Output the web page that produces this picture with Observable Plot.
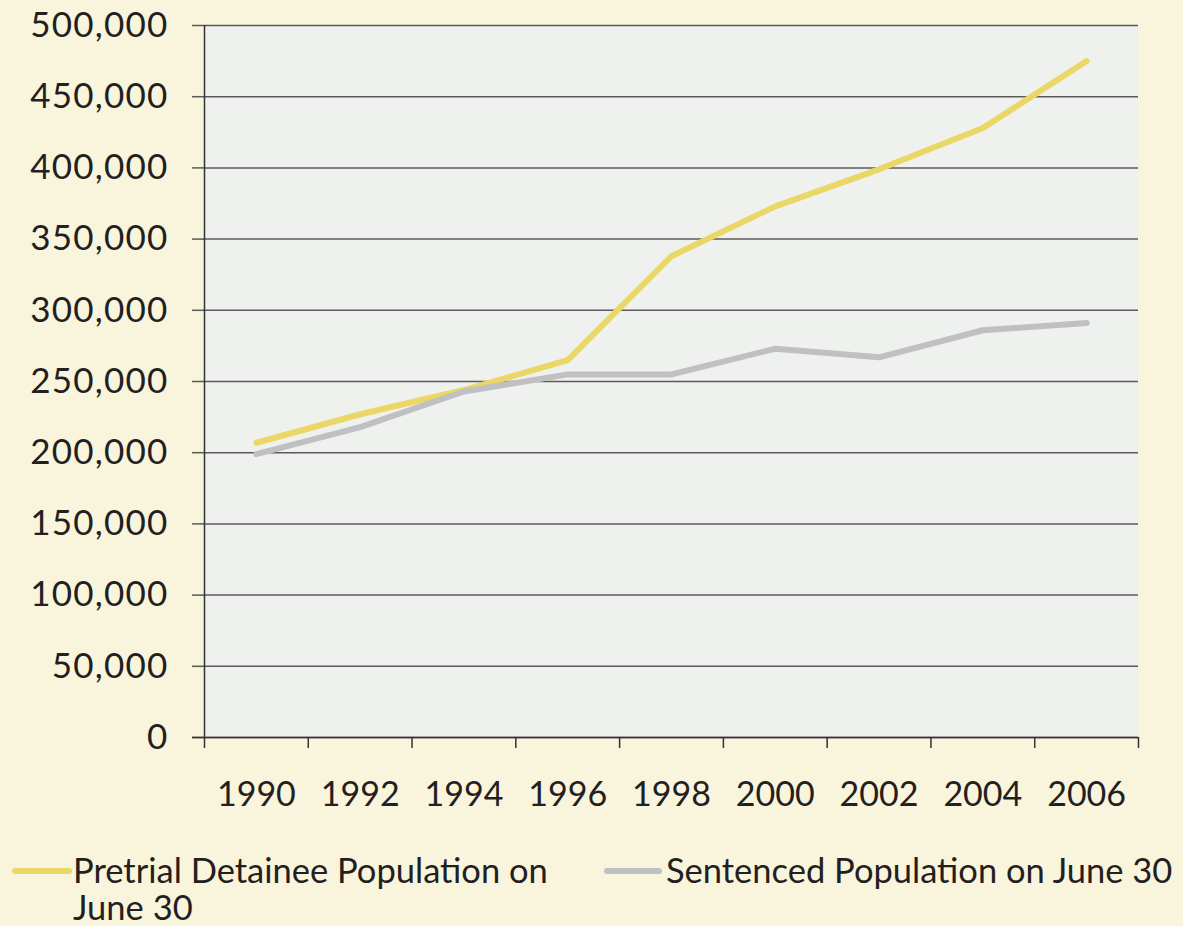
<!DOCTYPE html>
<html>
<head>
<meta charset="utf-8">
<script src="https://cdn.jsdelivr.net/npm/d3@7"></script>
<script src="https://cdn.jsdelivr.net/npm/@observablehq/plot@0.6"></script>
<style>
  html, body { margin: 0; padding: 0; background: #f9f4dc; }
  body { width: 1183px; height: 926px; position: relative; overflow: hidden; font-family: Lato, "Open Sans", sans-serif; }
  #chart { position: absolute; left: 0; top: 0; }
  #chart g[aria-label="y-axis tick label"] text { letter-spacing: 1.2px; }
  .leg { position: absolute; font-size: 34.5px; color: #231f20; line-height: 37px; }
  .sw { position: absolute; height: 6px; border-radius: 3px; }
</style>
</head>
<body>
<div id="chart"></div>
<div class="sw" id="sw1" style="left:12px; top:868px; width:60px;"></div>
<div class="leg" id="lg1" style="left:73px; top:851px; width:520px;"></div>
<div class="sw" id="sw2" style="left:604px; top:868px; width:58px;"></div>
<div class="leg" id="lg2" style="left:666px; top:851px; width:540px; white-space:nowrap;"></div>
<script>
const years = [1990, 1992, 1994, 1996, 1998, 2000, 2002, 2004, 2006];
const pretrial = [207000, 227000, 244000, 265000, 338000, 373000, 399000, 428000, 475000];
const sentenced = [199000, 218000, 243000, 255000, 255000, 273000, 267000, 286000, 291000];
const seriesNames = ["Pretrial Detainee Population on June 30", "Sentenced Population on June 30"];
const seriesColors = ["#ebd766", "#c0c0c3"];
const yTicks = [0, 50000, 100000, 150000, 200000, 250000, 300000, 350000, 400000, 450000, 500000];
const bandEdges = [1989, 1991, 1993, 1995, 1997, 1999, 2001, 2003, 2005, 2007];

const data = [];
years.forEach((yr, i) => {
  data.push({year: yr, value: pretrial[i], series: seriesNames[0]});
  data.push({year: yr, value: sentenced[i], series: seriesNames[1]});
});

const chart = Plot.plot({
  width: 1183,
  height: 830,
  marginLeft: 204,
  marginRight: 45,
  marginTop: 25,
  marginBottom: 93,
  style: {background: "transparent", fontFamily: "Lato, 'Open Sans', sans-serif", color: "#231f20"},
  x: {domain: [1989, 2007]},
  y: {domain: [0, 500000]},
  color: {domain: seriesNames, range: seriesColors},
  marks: [
    Plot.frame({fill: "#eff1ef", stroke: null}),
    Plot.gridY(yTicks, {stroke: "#5a5a5a", strokeOpacity: 1, strokeWidth: 1.5}),
    Plot.axisY({ticks: yTicks, tickSize: 12, tickPadding: 24, tickFormat: d3.format(","), fontSize: 35, stroke: "#5a5a5a", strokeWidth: 1.5, label: null}),
    Plot.ruleX([1989], {stroke: "#333", strokeWidth: 1.5}),
    Plot.axisX({ticks: bandEdges, tickSize: 11, tickFormat: () => "", stroke: "#333", strokeWidth: 1.5, label: null}),
    Plot.axisX({ticks: years, tickSize: 0, tickPadding: 44, tickFormat: d => String(d), fontSize: 34, label: null}),
    Plot.ruleY([0], {x1: 1989 - 12 * 18 / 934, x2: 2007, stroke: "#333", strokeWidth: 1.5}),
    Plot.line(data, {x: "year", y: "value", z: "series", stroke: "series", strokeWidth: 6, strokeLinecap: "round", strokeLinejoin: "round"})
  ]
});
document.getElementById("chart").appendChild(chart);
document.getElementById("sw1").style.background = seriesColors[0];
document.getElementById("sw2").style.background = seriesColors[1];
document.getElementById("lg1").textContent = seriesNames[0];
document.getElementById("lg2").textContent = seriesNames[1];
</script>
</body>
</html>
